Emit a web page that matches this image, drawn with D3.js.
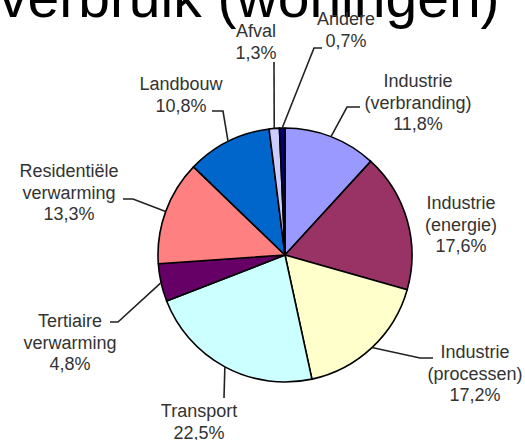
<!DOCTYPE html>
<html lang="nl">
<head>
<meta charset="UTF-8">
<title>verbruik (woningen)</title>
<style>
  body { margin: 0; background: #fff; }
  svg { display: block; }
</style>
</head>
<body>
<script src="https://d3js.org/d3.v7.min.js"></script>
<script>
// data, clockwise from 12 o'clock
const categories = ["Industrie (verbranding)", "Industrie (energie)", "Industrie (processen)",
                    "Transport", "Tertiaire verwarming", "Residentiële verwarming",
                    "Landbouw", "Afval", "Andere"];
const labelLines = [["Industrie", "(verbranding)"], ["Industrie", "(energie)"], ["Industrie", "(processen)"],
                    ["Transport"], ["Tertiaire", "verwarming"], ["Residentiële", "verwarming"],
                    ["Landbouw"], ["Afval"], ["Andere"]];
const values = [11.8, 17.6, 17.2, 22.5, 4.8, 13.3, 10.8, 1.3, 0.7];
const colors = ["#9999ff", "#993366", "#ffffcc", "#ccffff", "#660066", "#ff8080", "#0066cc", "#ccccff", "#000080"];

// label placement: text centre x, first baseline y, leader elbow and end (null = no leader)
const labelLayout = [
  {x: 418, y: 87,  elbow: [347, 107], end: [360, 107]},
  {x: 461, y: 209, elbow: null, end: null},
  {x: 475, y: 358, elbow: [420, 358], end: [433, 358]},
  {x: 199, y: 417, elbow: [224, 398], end: [224, 398]},
  {x: 70,  y: 327, elbow: [118, 322], end: [110, 322]},
  {x: 69,  y: 177, elbow: [133, 199], end: [123, 199]},
  {x: 181, y: 90,  elbow: [223, 111], end: [212, 111]},
  {x: 256, y: 37,  elbow: [274, 62],  end: [274, 62]},
  {x: 346, y: 25,  elbow: [314, 48],  end: [322, 48]}
];

const width = 525, height = 440;
const cx = 285, cy = 255, radius = 127;
const lineH = 21.5;

const svg = d3.select("body").append("svg")
    .attr("width", width)
    .attr("height", height);

// title, cut off at the top like in the slide
svg.append("text")
    .attr("x", -1)
    .attr("y", 17)
    .attr("font-family", "Liberation Sans, Arial, sans-serif")
    .attr("font-size", 57)
    .attr("fill", "#000")
    .text("verbruik (woningen)");

const pie = d3.pie().sort(null).value(d => d);
const arcs = pie(values);

const arc = d3.arc().innerRadius(0).outerRadius(radius);
const edgeArc = d3.arc().innerRadius(radius).outerRadius(radius);

const g = svg.append("g").attr("transform", `translate(${cx},${cy})`);

g.selectAll("path.slice")
  .data(arcs)
  .join("path")
    .attr("class", "slice")
    .attr("d", arc)
    .attr("fill", (d, i) => colors[i])
    .attr("stroke", "#000")
    .attr("stroke-width", 1.6)
    .attr("stroke-linejoin", "round");

// leader lines from the slice edge
const leaders = arcs.map((d, i) => ({d, i, lay: labelLayout[i]})).filter(o => o.lay.elbow);
svg.append("g")
  .selectAll("polyline")
  .data(leaders)
  .join("polyline")
    .attr("points", o => {
      const c = edgeArc.centroid(o.d);
      return [[c[0] + cx, c[1] + cy], o.lay.elbow, o.lay.end].map(p => p.join(",")).join(" ");
    })
    .attr("fill", "none")
    .attr("stroke", "#222")
    .attr("stroke-width", 1.6);

// labels
const fmt = v => v.toFixed(1).replace(".", ",") + "%";
const labels = svg.append("g")
    .attr("font-family", "Liberation Sans, Arial, sans-serif")
    .attr("font-size", 18)
    .attr("fill", "#333")
    .attr("text-anchor", "middle");

labels.selectAll("text")
  .data(values)
  .join("text")
    .attr("x", (d, i) => labelLayout[i].x)
    .attr("y", (d, i) => labelLayout[i].y)
    .each(function(d, i) {
      const t = d3.select(this);
      const lines = labelLines[i].concat([fmt(d)]);
      lines.forEach((s, k) => {
        t.append("tspan")
          .attr("x", labelLayout[i].x)
          .attr("dy", k === 0 ? 0 : lineH)
          .text(s);
      });
    });
</script>
</body>
</html>
